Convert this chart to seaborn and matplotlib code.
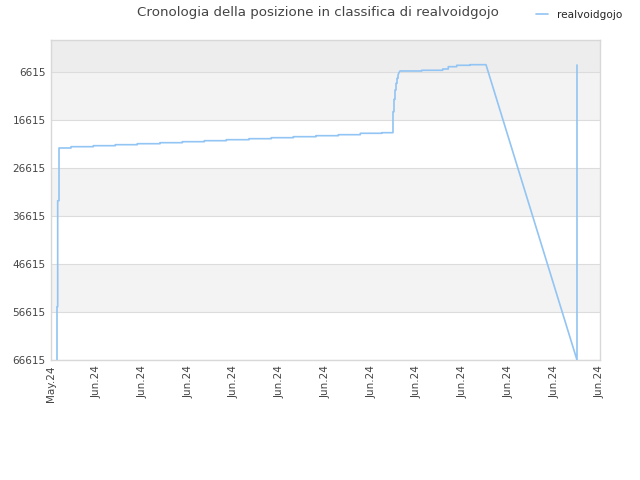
import seaborn as sns
import matplotlib.pyplot as plt
import pandas as pd

t = [0.131, 0.131, 0.146, 0.146, 0.175, 0.175,
     0.437, 0.437, 0.925, 0.925, 1.405, 1.405, 1.886, 1.886, 2.383, 2.383,
     2.870, 2.870, 3.351, 3.351, 3.832, 3.832, 4.328, 4.328, 4.815, 4.815,
     5.296, 5.296, 5.792, 5.792, 6.280, 6.280, 6.761, 6.761, 7.228, 7.228,
     7.475, 7.475, 7.497, 7.497, 7.519, 7.519, 7.541, 7.541, 7.563, 7.563,
     7.585, 7.585, 7.607, 7.628, 8.103, 8.103, 8.562, 8.562, 8.684, 8.684,
     8.868, 8.868, 9.158, 9.158, 9.508, 11.497, 11.497]
rank = [66615, 55511, 55511, 33428, 33428, 22448,
        22448, 22177, 22177, 21969, 21969, 21761, 21761, 21553, 21553, 21344,
        21344, 21136, 21136, 20927, 20927, 20719, 20719, 20511, 20511, 20302,
        20302, 20094, 20094, 19886, 19886, 19677, 19677, 19386, 19386, 19261,
        19261, 14886, 14886, 12302, 12302, 10365, 10365, 8969, 8969, 7927,
        7927, 7240, 6761, 6407, 6407, 6261, 6261, 5990, 5990, 5511,
        5511, 5219, 5219, 5094, 5094, 66615, 5157]

tick_labels = ['May.24'] + ['Jun.24'] * 12
y_ticks = [6615, 16615, 26615, 36615, 46615, 56615, 66615]
player = 'realvoidgojo'

df = pd.DataFrame({'t': t, 'rank': rank, 'player': player})

sns.set_style('white')
plt.rcParams['font.family'] = ['DejaVu Sans']

fig = plt.figure(figsize=(6.4, 4.8), dpi=100)
ax = fig.add_axes([0.0797, 0.25, 0.8578, 0.6667])

# background bands
ax.axhspan(-52, 6615, color='#ededed', zorder=0, lw=0)
for lo in [6615, 26615, 46615]:
    ax.axhspan(lo, lo + 10000, color='#f3f3f3', zorder=0, lw=0)
for yv in y_ticks:
    ax.axhline(yv, color='#dcdcdc', lw=0.8, zorder=1)

sns.lineplot(data=df, x='t', y='rank', hue='player', palette=['#92c4f4'],
             sort=False, estimator=None, lw=1.2, ax=ax, zorder=3, legend=False)

ax.set_xlim(0, 12)
ax.set_ylim(66615, -52)
ax.set_xticks(range(13))
ax.set_xticklabels(tick_labels, rotation=90, fontsize=7.5, color='#444444')
ax.set_yticks(y_ticks)
ax.set_yticklabels([str(v) for v in y_ticks], fontsize=7.5, color='#444444')
ax.tick_params(length=0, pad=4)
ax.set_xlabel('')
ax.set_ylabel('')
for s in ax.spines.values():
    s.set_color('#d8d8d8')
    s.set_linewidth(1)

fig.text(0.497, 0.973, 'Cronologia della posizione in classifica di realvoidgojo',
         ha='center', va='center', fontsize=9.6, color='#444444')
handle = plt.Line2D([], [], color='#92c4f4', lw=1.2)
fig.legend([handle], [player], loc='center left', bbox_to_anchor=(0.838, 0.969),
           frameon=False, fontsize=7.6, handlelength=1.1, handletextpad=0.9,
           borderaxespad=0, borderpad=0)

plt.savefig('out.png', dpi=100)
